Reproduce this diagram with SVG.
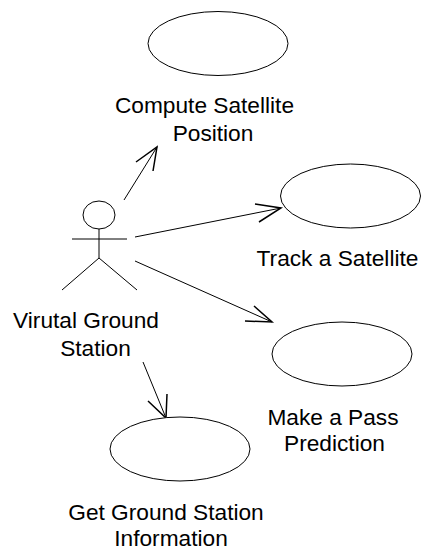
<svg xmlns="http://www.w3.org/2000/svg" width="422" height="550" viewBox="0 0 422 550">
<style>
.s{fill:none;stroke:#000;stroke-width:1}
.h{fill:none;stroke:#000;stroke-width:1.5}
.e{fill:#fff;stroke:#000;stroke-width:1}
text{font-family:"Liberation Sans",Arial,sans-serif;font-size:22.7px;fill:#000;text-anchor:middle}
</style>
<rect width="422" height="550" fill="#fff"/>
<g id="connectors">
<path class="s" d="M124 200L157 147"/><path class="h" d="M136 162L157 147L153 171"/>
<path class="s" d="M135 237L281 208"/><path class="h" d="M255 204L281 208L259 222"/>
<path class="s" d="M135 261L272 322"/><path class="h" d="M245 321L272 322L254 306"/>
<path class="s" d="M143 362L166 418"/><path class="h" d="M148 401L166 418L167 394"/>
</g>
<g id="actor">
<ellipse class="s" cx="99" cy="215" rx="16" ry="14"/>
<path class="s" d="M72 239H127M99 229V258M99 258L62 290M99 258L137 290"/>
<text x="86" y="328">Virutal Ground</text>
<text x="95.500" y="356">Station</text>
</g>
<g id="uc1"><ellipse class="e" cx="218" cy="43.500" rx="70" ry="32"/>
<text x="204.500" y="113">Compute Satellite</text><text x="213" y="141">Position</text></g>
<g id="uc2"><ellipse class="e" cx="350.500" cy="196" rx="70" ry="32"/>
<text x="337.500" y="266">Track a Satellite</text></g>
<g id="uc3"><ellipse class="e" cx="342" cy="354" rx="70" ry="32"/>
<text x="333" y="425">Make a Pass</text><text x="334.500" y="451">Prediction</text></g>
<g id="uc4"><ellipse class="e" cx="180" cy="449" rx="70" ry="32"/>
<text x="166" y="520">Get Ground Station</text><text x="171" y="546">Information</text></g>
</svg>
